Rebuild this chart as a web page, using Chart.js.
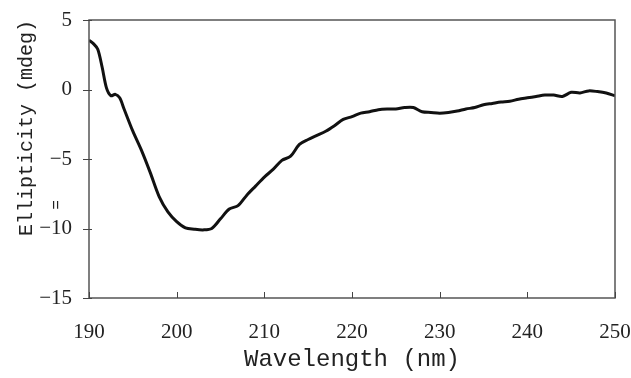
<!DOCTYPE html>
<html>
<head>
<meta charset="utf-8">
<script src="https://cdn.jsdelivr.net/npm/chart.js@4"></script>
<style>
  html, body { margin: 0; padding: 0; background: #fff; }
  #wrap { width: 631px; height: 378px; }
</style>
</head>
<body>
<div id="wrap"><canvas id="chart" width="631" height="378"></canvas></div>
<script>
'use strict';

// CD spectrum
const wavelengths = [190, 190.5, 191, 191.5, 192, 192.5, 193, 193.5, 194, 195, 196, 197, 198, 199,
  200, 201, 202, 203, 204, 205, 206, 207, 208, 209, 210, 211, 212, 213, 214, 215, 216, 217, 218, 219,
  220, 221, 222, 223, 224, 225, 226, 227, 228, 229, 230, 231, 232, 233, 234, 235, 236, 237, 238, 239,
  240, 241, 242, 243, 244, 245, 246, 247, 248, 249, 250];
const ellipticity = [3.55, 3.3, 2.9, 1.6, 0.1, -0.45, -0.35, -0.6, -1.4, -3.0, -4.4, -6.0, -7.7, -8.8,
  -9.5, -9.95, -10.05, -10.1, -10.0, -9.3, -8.6, -8.35, -7.6, -6.95, -6.3, -5.75, -5.1, -4.8, -3.95, -3.6, -3.3, -3.0, -2.6, -2.15,
  -1.95, -1.7, -1.6, -1.45, -1.4, -1.4, -1.3, -1.3, -1.6, -1.65, -1.7, -1.65, -1.55, -1.4, -1.3, -1.1, -1.0, -0.9, -0.85, -0.7,
  -0.6, -0.5, -0.4, -0.4, -0.5, -0.2, -0.25, -0.1, -0.15, -0.25, -0.45];

const xTicks = [190, 200, 210, 220, 230, 240, 250];
const yTicks = [-15, -10, -5, 0, 5];

const points = wavelengths.map((w, i) => ({ x: w, y: ellipticity[i] }));

// frame box + short tick marks, plus the stray "=" mark left of the axis
const framePlugin = {
  id: 'frame',
  afterDraw(chart) {
    const { ctx, chartArea: a, scales } = chart;
    ctx.save();
    ctx.strokeStyle = '#555';
    ctx.lineWidth = 1.5;
    ctx.strokeRect(a.left, a.top, a.right - a.left, a.bottom - a.top);

    ctx.lineWidth = 1;
    ctx.strokeStyle = '#444';
    xTicks.forEach(v => {
      const px = Math.round(scales.x.getPixelForValue(v)) + 0.5;
      ctx.beginPath();
      ctx.moveTo(px, a.bottom);
      ctx.lineTo(px, a.bottom - 6);
      ctx.stroke();
    });
    yTicks.forEach(v => {
      const py = Math.round(scales.y.getPixelForValue(v)) + 0.5;
      ctx.beginPath();
      ctx.moveTo(a.left - 6, py);
      ctx.lineTo(a.left + 3, py);
      ctx.stroke();
    });

    ctx.translate(57, 205);
    ctx.rotate(-Math.PI / 2);
    ctx.fillStyle = '#222';
    ctx.font = '16px "Liberation Mono"';
    ctx.textAlign = 'center';
    ctx.textBaseline = 'middle';
    ctx.fillText('=', 0, 0);
    ctx.restore();
  }
};

function renderChart() {
  let ctx = document.getElementById('chart').getContext('2d');
  new Chart(ctx, {
    type: 'line',
    data: {
      datasets: [
        {
          data: points,
          borderColor: '#111',
          borderWidth: 3,
          pointRadius: 0,
          tension: 0.3,
          fill: false
        }
      ]
    },
    options: {
      responsive: false,
      animation: false,
      layout: { padding: { top: 20, right: 16, left: 0, bottom: 0 } },
      plugins: {
        legend: { display: false },
        tooltip: { enabled: false }
      },
      scales: {
        x: {
          type: 'linear',
          min: 190,
          max: 250,
          afterBuildTicks: scale => { scale.ticks = xTicks.map(v => ({ value: v })); },
          afterFit: scale => {
            scale.height = 80;
            scale.paddingLeft = 0;
            scale.paddingRight = 0;
          },
          grid: { display: false, drawTicks: false },
          border: { display: false },
          ticks: {
            padding: 22,
            color: '#222',
            font: { family: '"Liberation Serif"', size: 21 }
          },
          title: {
            display: true,
            text: 'Wavelength (nm)',
            color: '#222',
            padding: { top: 0, bottom: 4 },
            font: { family: '"Liberation Mono"', size: 24 }
          }
        },
        y: {
          min: -15,
          max: 5,
          afterBuildTicks: scale => { scale.ticks = yTicks.map(v => ({ value: v })); },
          afterFit: scale => {
            scale.width = 89;
            scale.paddingTop = 0;
            scale.paddingBottom = 0;
          },
          grid: { display: false, drawTicks: false },
          border: { display: false },
          ticks: {
            padding: 17,
            color: '#222',
            font: { family: '"Liberation Serif"', size: 21 },
            callback: v => (v < 0 ? '\u2212' + Math.abs(v) : String(v))
          },
          title: {
            display: true,
            text: 'Ellipticity (mdeg)',
            align: 'end',
            color: '#222',
            padding: { top: 15, bottom: 0 },
            font: { family: '"Liberation Mono"', size: 20 }
          }
        }
      }
    },
    plugins: [framePlugin]
  });
}

document.addEventListener('DOMContentLoaded', renderChart);
</script>
</body>
</html>
